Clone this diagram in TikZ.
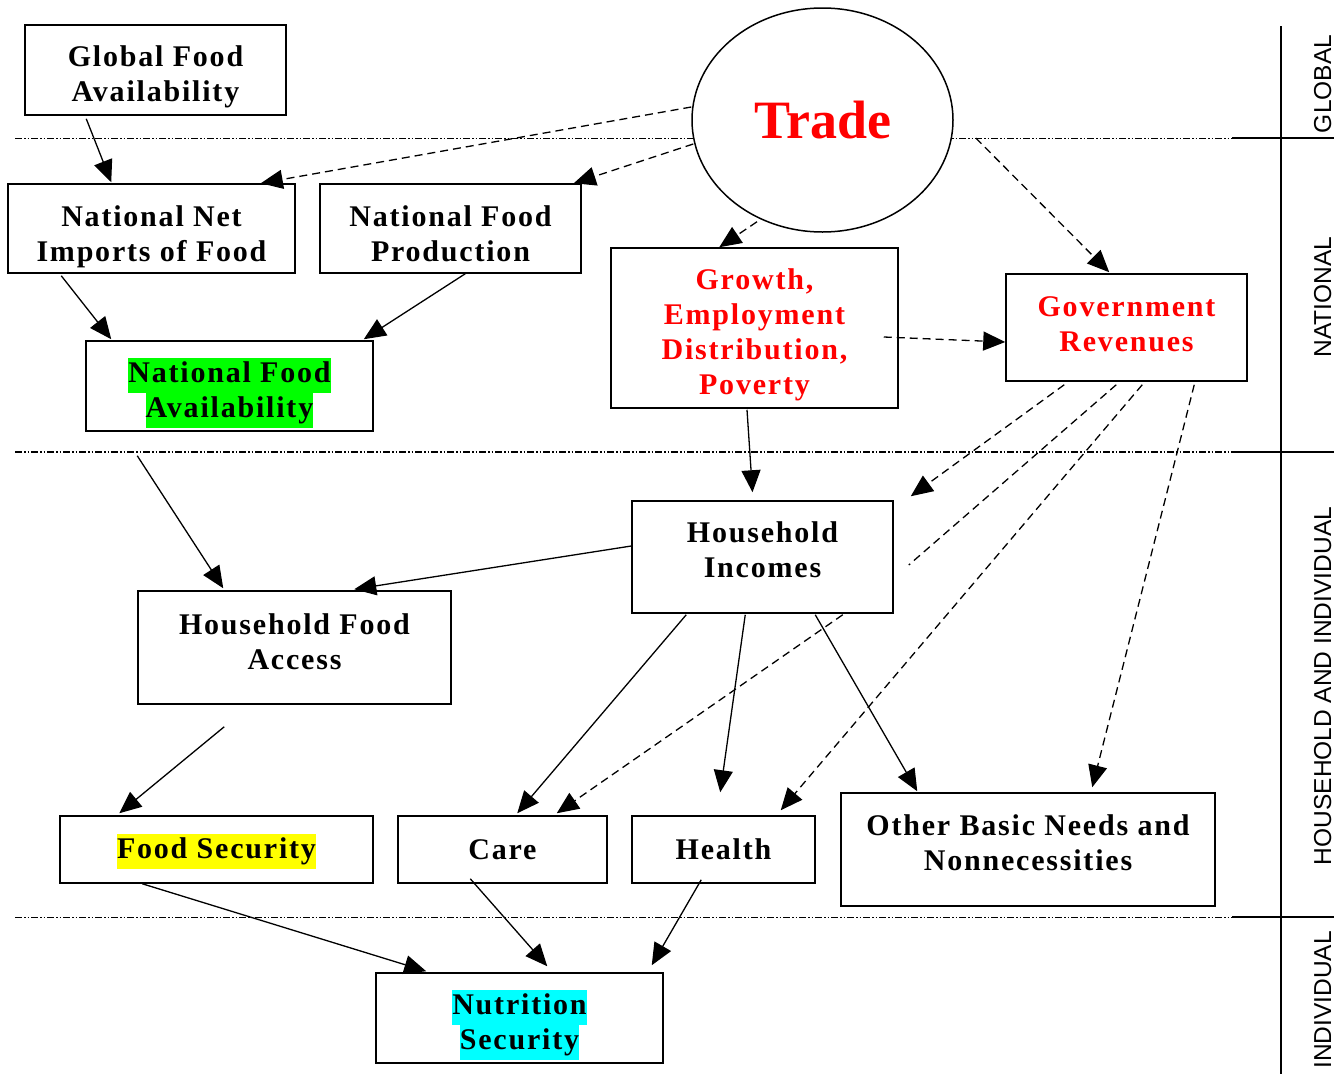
\documentclass[tikz,border=0pt]{standalone}
\usepackage{fontspec}
\setmainfont{Liberation Serif}
\newfontfamily\boxfont{Liberation Serif}[LetterSpace=6]
\newfontfamily\sidefont{Liberation Sans}
\usetikzlibrary{shapes.geometric,arrows.meta,calc}
\definecolor{hlgreen}{RGB}{0,255,0}
\definecolor{hlyellow}{RGB}{255,255,0}
\definecolor{hlcyan}{RGB}{0,255,255}
\definecolor{txtred}{RGB}{255,0,0}
\newcommand{\hlt}[2]{{\setlength{\fboxsep}{0pt}\colorbox{#1}{\strut #2}}}
\tikzset{
  box/.style={draw, line width=1.5pt, rectangle, inner sep=0pt},
  boxtext/.style={inner sep=0pt, align=center,
    font=\fontsize{30}{35}\selectfont\boxfont\bfseries},
  redtext/.style={text=txtred},
  arr/.style={-{Triangle[length=22pt,width=19pt]}, line width=1.3pt},
  darr/.style={arr, dash pattern=on 8pt off 5pt},
  dline/.style={line width=1.3pt, dash pattern=on 8pt off 5pt},
  level/.style={line width=0.9pt, dash pattern=on 7pt off 2pt on 1.5pt off 2pt on 1.5pt off 2pt},
  levelthick/.style={line width=1.8pt, dash pattern=on 7pt off 2pt on 1.5pt off 2pt on 1.5pt off 2pt},
  solidline/.style={line width=2pt},
  side/.style={inner sep=0pt, rotate=90, anchor=base, font=\fontsize{24.5}{25}\selectfont\sidefont}
}
\begin{document}
\begin{tikzpicture}[x=1pt,y=-1pt]
\useasboundingbox (0,0) rectangle (1334,1074);

% level separators
\coordinate (l1a) at (15,138);  \coordinate (l1b) at (1232,138); \coordinate (l1c) at (1334,138);
\coordinate (l2a) at (15,452);  \coordinate (l2b) at (1232,452); \coordinate (l2c) at (1334,452);
\coordinate (l3a) at (15,917);  \coordinate (l3b) at (1232,917); \coordinate (l3c) at (1334,917);
\coordinate (vtop) at (1281,26); \coordinate (vbot) at (1281,1074);
\draw[level] (l1a) -- (l1b);
\draw[levelthick] (l2a) -- (l2b);
\draw[level] (l3a) -- (l3b);
\draw[solidline] (l1b) -- (l1c);
\draw[solidline] (l2b) -- (l2c);
\draw[solidline] (l3b) -- (l3c);
\draw[solidline] (vtop) -- (vbot);

% side labels
\node[side] (sglobal) at (1331,84) {GLOBAL};
\node[side] (snational) at (1331,297) {NATIONAL};
\node[side] (shh) at (1331,686) {HOUSEHOLD AND INDIVIDUAL};
\node[side] (sind) at (1331,1000) {INDIVIDUAL};

% boxes
\node[box, minimum width=261pt, minimum height=90pt] (gfa) at (155.5,70) {};
\node[box, minimum width=287pt, minimum height=89pt] (nni) at (151.5,228.5) {};
\node[box, minimum width=261pt, minimum height=89pt] (nfp) at (450.5,228.5) {};
\node[box, minimum width=287pt, minimum height=90pt] (nfa) at (229.5,386) {};
\node[draw, ellipse, line width=1.5pt, fill=white, inner sep=0pt, minimum width=261pt, minimum height=224pt,
      text=txtred, font=\fontsize{54}{60}\selectfont\bfseries] (trade) at (822.5,120) {Trade};
\node[box, minimum width=287pt, minimum height=160pt] (growth) at (754.5,328) {};
\node[box, minimum width=241pt, minimum height=107pt] (gov) at (1126.5,327.5) {};
\node[box, minimum width=261pt, minimum height=112pt] (hhi) at (762.5,557) {};
\node[box, minimum width=313pt, minimum height=113pt] (hfa) at (294.5,647.5) {};
\node[box, minimum width=313pt, minimum height=67pt] (fs) at (216.5,849.5) {};
\node[box, minimum width=209pt, minimum height=67pt] (care) at (502.5,849.5) {};
\node[box, minimum width=183pt, minimum height=67pt] (health) at (723.5,849.5) {};
\node[box, minimum width=374pt, minimum height=113pt] (other) at (1028,849.5) {};
\node[box, minimum width=287pt, minimum height=90pt] (nut) at (519.5,1018) {};

% box texts
\node[boxtext] (gfat) at ($(gfa.center)+(0,7)$) {Global Food\\Availability};
\node[boxtext] (nnit) at ($(nni.center)+(0,8)$) {National Net\\Imports of Food};
\node[boxtext] (nfpt) at ($(nfp.center)+(0,5)$) {National Food\\Production};
\node[boxtext] (nfat) at ($(nfa.center)+(0,7)$) {\hlt{hlgreen}{National Food}\\\hlt{hlgreen}{Availability}};
\node[boxtext, redtext] (growtht) at ($(growth.center)+(0,7)$) {Growth,\\Employment\\Distribution,\\Poverty};
\node[boxtext, redtext] (govt) at ($(gov.center)+(0,-3)$) {Government\\Revenues};
\node[boxtext] (hhit) at ($(hhi.center)+(0,-7)$) {Household\\Incomes};
\node[boxtext] (hfat) at ($(hfa.center)+(0,-6)$) {Household Food\\Access};
\node[boxtext] (fst) at ($(fs.center)+(0,2)$) {\hlt{hlyellow}{Food Security}};
\node[boxtext] (caret) at (care.center) {Care};
\node[boxtext] (healtht) at (health.center) {Health};
\node[boxtext] (othert) at ($(other.center)+(0,-7)$) {Other Basic Needs and\\Nonnecessities};
\node[boxtext] (nutt) at ($(nut.center)+(0,7)$) {\hlt{hlcyan}{Nutrition}\\\hlt{hlcyan}{Security}};

% connectors
\draw[arr] ($(gfa.south west)+(62,3)$) -- ($(nni.north west)+(104,-1)$);
\draw[darr] ($(trade.west)+(0,-13)$) -- ($(nni.north east)+(-35,0)$);
\draw[darr] ($(trade.west)+(2,24)$) -- ($(nfp.north east)+(-8,0)$);
\draw[arr] ($(nni.south west)+(54,2)$) -- ($(nfa.north west)+(26,-1)$);
\draw[arr] ($(nfp.south west)+(146,0)$) -- ($(nfa.north east)+(-10,-1)$);
\draw[darr] ($(trade.south)+(-65.5,-11)$) -- ($(growth.north west)+(109,0)$);
\draw[darr] ($(trade.east)+(22,18)$) -- ($(gov.north west)+(104,-1)$);
\draw[darr] ($(growth.east)+(-15,9)$) -- ($(gov.west)+(0,14.5)$);
\draw[arr] ($(growth.south)+(-7.5,1)$) -- ($(hhi.north)+(-10,-8)$);
\draw[darr] ($(gov.south west)+(59,3)$) -- ($(hhi.north east)+(17,-4)$);
\draw[dline] ($(gov.south west)+(111,3)$) -- ($(hhi.east)+(15,8)$);
\draw[darr] ($(hhi.south east)+(-51,1)$) -- ($(care.north east)+(-51,-2)$);
\draw[darr] ($(gov.south west)+(137,3)$) -- ($(health.north east)+(-35,-5)$);
\draw[darr] ($(gov.south west)+(189,3)$) -- ($(other.north west)+(252,-5)$);
\draw[arr] ($(hhi.west)+(0,-11)$) -- ($(hfa.north west)+(217,-1)$);
\draw[arr] ($(nfa.south west)+(52,24)$) -- ($(hfa.north west)+(86,-2)$);
\draw[arr] ($(hfa.south west)+(87,22)$) -- ($(fs.north west)+(60,-2)$);
\draw[arr] ($(hhi.south west)+(55,1)$) -- ($(care.north west)+(120,-2)$);
\draw[arr] ($(hhi.south west)+(114,1)$) -- ($(health.north west)+(89,-23)$);
\draw[arr] ($(hhi.south west)+(184,1)$) -- ($(other.north west)+(77,-1)$);
\draw[arr] ($(fs.south west)+(83,0)$) -- ($(nut.north west)+(51,-1)$);
\draw[arr] ($(care.south west)+(73,-5)$) -- ($(nut.north west)+(172,-6)$);
\draw[arr] ($(health.south west)+(70,-4)$) -- ($(nut.north east)+(-12,-7)$);
\end{tikzpicture}
\end{document}
